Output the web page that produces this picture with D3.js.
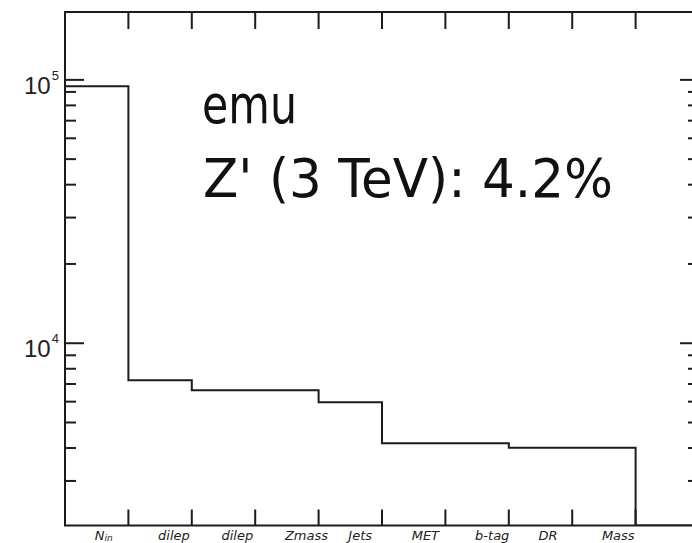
<!DOCTYPE html>
<html>
<head>
<meta charset="utf-8">
<script src="https://cdn.jsdelivr.net/npm/d3@7"></script>
<style>
  html, body { margin: 0; padding: 0; background: #fff; }
  svg { display: block; }
</style>
</head>
<body>
<script>
// Cut-flow histogram: events surviving each selection step (log scale).
const categories = ["N_{in}", "dilep", "dilep", "Zmass", "Jets", "MET", "b-tag", "DR", "Mass", ""];
const counts = [94600, 7236, 6630, 6630, 5970, 4172, 4172, 4010, 4010, 0];
const yMajorLabels = [{ base: "10", exp: "4", value: 1e4 }, { base: "10", exp: "5", value: 1e5 }];
const annotationLines = ["emu", "Z' (3 TeV): 4.2%"];

const W = 692, H = 543;
const frame = { left: 65, right: 699, top: 12, bottom: 525.5 };
const ink = "#1c1c1c";

const svg = d3.select("body").append("svg").attr("width", W).attr("height", H);

const x = d3.scaleLinear().domain([0, categories.length]).range([frame.left, frame.right]);
const y = d3.scaleLog().domain([2032, 181000]).range([frame.bottom, frame.top]).clamp(true);

// Histogram outline
const pts = [[x(0), frame.bottom]];
counts.forEach((v, i) => {
  const yy = v > 0 ? y(v) : frame.bottom;
  pts.push([x(i), yy], [x(i + 1), yy]);
});
pts.push([x(counts.length), frame.bottom]);

svg.append("defs").append("clipPath").attr("id", "plotclip")
  .append("rect").attr("x", frame.left).attr("y", frame.top)
  .attr("width", frame.right - frame.left).attr("height", frame.bottom - frame.top);

svg.append("path")
  .attr("d", d3.line()(pts))
  .attr("clip-path", "url(#plotclip)")
  .attr("fill", "none").attr("stroke", ink).attr("stroke-width", 2)
  .attr("stroke-linejoin", "miter");

// Frame
svg.append("rect")
  .attr("x", frame.left).attr("y", frame.top)
  .attr("width", frame.right - frame.left).attr("height", frame.bottom - frame.top)
  .attr("fill", "none").attr("stroke", ink).attr("stroke-width", 2);

// Bin-edge ticks on bottom and top
const edges = d3.range(1, categories.length);
const tickG = svg.append("g").attr("stroke", ink).attr("stroke-width", 2);
tickG.selectAll("line.xb").data(edges).join("line")
  .attr("x1", d => x(d)).attr("x2", d => x(d))
  .attr("y1", frame.bottom).attr("y2", frame.bottom - 16);
tickG.selectAll("line.xt").data(edges).join("line")
  .attr("x1", d => x(d)).attr("x2", d => x(d))
  .attr("y1", frame.top).attr("y2", frame.top + 17);

// Log ticks on left and right
const yTicks = y.ticks().filter(t => t >= y.domain()[0] && t <= y.domain()[1]);
const isMajor = t => Math.abs(Math.log10(t) - Math.round(Math.log10(t))) < 1e-9;
tickG.selectAll("line.yl").data(yTicks).join("line")
  .attr("x1", frame.left).attr("x2", d => frame.left + (isMajor(d) ? 19 : 11))
  .attr("y1", d => y(d)).attr("y2", d => y(d));
tickG.selectAll("line.yr").data(yTicks).join("line")
  .attr("x1", frame.right).attr("x2", d => frame.right - (isMajor(d) ? 19 : 11))
  .attr("y1", d => y(d)).attr("y2", d => y(d));

// Power-of-ten labels: base with superscript exponent in one text element
const lab = svg.append("g").attr("fill", "#222")
  .attr("font-family", "'Liberation Sans Narrow', 'Liberation Sans', Arial, sans-serif");
yMajorLabels.forEach(d => {
  const yy = y(d.value);
  const t = lab.append("text").attr("x", 24).attr("y", yy + 14);
  t.append("tspan").attr("font-size", 24).text(d.base);
  t.append("tspan").attr("font-size", 13).attr("dx", 1).attr("dy", -14).text(d.exp);
});

// Category labels under the bins
const catG = svg.append("g").attr("fill", "#222")
  .attr("font-family", "'DejaVu Sans', sans-serif").attr("font-style", "italic").attr("font-size", 13);
categories.forEach((c, i) => {
  if (!c) return;
  const m = c.match(/^(.*)_\{(.*)\}$/);
  const t = catG.append("text").attr("x", x(i + 0.5) - 2).attr("y", 540);
  if (m) {
    t.append("tspan").text(m[1]);
    t.append("tspan").attr("font-size", 9).attr("dy", 1).text(m[2]);
  } else {
    t.text(c);
  }
});

// Annotation text
const ann = svg.append("g").attr("fill", "#111")
  .attr("font-family", "'Comic Sans MS', 'DejaVu Sans', sans-serif").attr("font-size", 54);
ann.append("text").attr("x", 202).attr("y", 123)
  .attr("textLength", 95).attr("lengthAdjust", "spacingAndGlyphs").text(annotationLines[0]);
ann.append("text").attr("x", 203).attr("y", 197)
  .attr("textLength", 410).attr("lengthAdjust", "spacingAndGlyphs").text(annotationLines[1]);
</script>
</body>
</html>
